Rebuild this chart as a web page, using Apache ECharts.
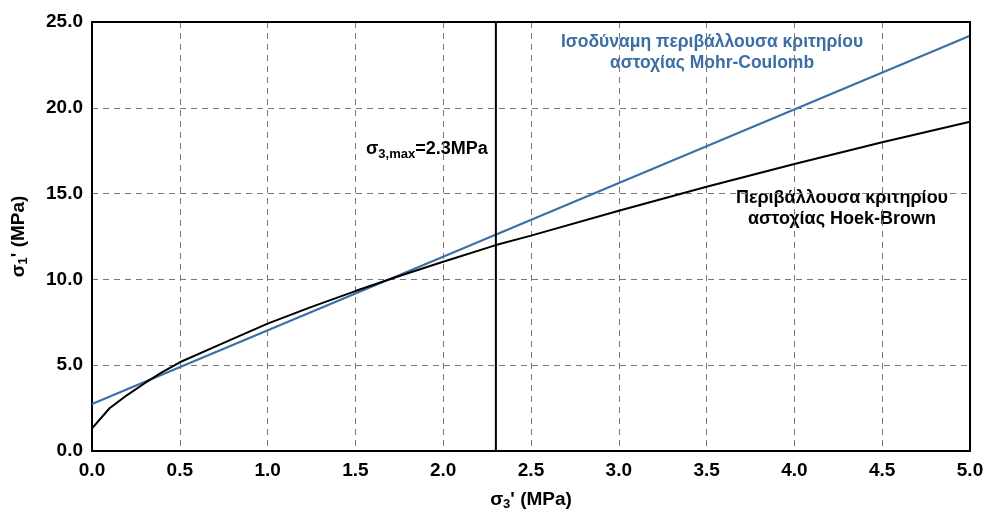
<!DOCTYPE html>
<html><head><meta charset="utf-8">
<script src="https://cdn.jsdelivr.net/npm/echarts@6/dist/echarts.min.js"></script>
<style>html,body{margin:0;padding:0;background:#fff}#c{width:984px;height:515px}</style>
</head><body><div id="c"></div>
<script>
const xTicks = [0,0.5,1,1.5,2,2.5,3,3.5,4,4.5,5];
const yTicks = [0,5,10,15,20,25];
const hbSigma3 = [0,0.1,0.2,0.3,0.4,0.5,0.75,1.0,1.25,1.5,1.75,2.0,2.3,2.5,3.0,3.5,4.0,4.5,5.0];
const hbSigma1 = [1.32,2.49,3.26,3.95,4.6,5.17,6.3,7.42,8.4,9.32,10.2,11.03,12.0,12.55,14.0,15.4,16.73,17.99,19.19];
const mcSigma3 = [0,5];
const mcSigma1 = [2.74,24.2];
const sigma3max = 2.3;

const F = '"Liberation Sans", Arial, sans-serif';
const chart = echarts.init(document.getElementById('c'));
const grid = {left:92,right:14,top:22,bottom:64};
const nameRich = {a:{fontFamily:F,fontWeight:'bold',fontSize:19,color:'#000'},s:{fontFamily:F,fontWeight:'bold',fontSize:13,color:'#000',verticalAlign:'bottom',padding:[9,0,0,0]}};
const lbl = {fontFamily:F,fontWeight:'bold',fontSize:19,color:'#000',formatter:v=>v.toFixed(1)};
const frame = {show:true,onZero:false,lineStyle:{color:'#000',width:2}};
chart.setOption({
  animation:false,
  grid:Object.assign({show:false,containLabel:false,outerBoundsMode:'none'},grid),
  xAxis:[{type:'value',min:0,max:5,interval:0.5,
    name:'{a|σ}{s|3}{a|\' (MPa)}',nameLocation:'middle',nameGap:38,nameTextStyle:{rich:nameRich},
    axisLine:frame,axisTick:{show:false},
    axisLabel:Object.assign({margin:10},lbl),
    splitLine:{show:true,lineStyle:{color:'#777',type:[6,5],width:1}}},
   {type:'value',min:0,max:5,interval:0.5,position:'top',axisLine:frame,axisTick:{show:false},axisLabel:{show:false},splitLine:{show:false},z:10}],
  yAxis:[{type:'value',min:0,max:25,interval:5,
    name:'{a|σ}{s|1}{a|\' (MPa)}',nameLocation:'middle',nameGap:62,nameRotate:90,nameTextStyle:{rich:nameRich},
    axisLine:frame,axisTick:{show:false},
    axisLabel:Object.assign({margin:9},lbl),
    splitLine:{show:true,lineStyle:{color:'#777',type:[6,5],width:1}}},
   {type:'value',min:0,max:25,interval:5,position:'right',axisLine:frame,axisTick:{show:false},axisLabel:{show:false},splitLine:{show:false},z:10}],
  series:[
    {type:'line',data:mcSigma3.map((x,i)=>[x,mcSigma1[i]]),symbol:'none',lineStyle:{color:'#3a6ea5',width:2},z:3},
    {type:'line',data:hbSigma3.map((x,i)=>[x,hbSigma1[i]]),symbol:'none',smooth:false,lineStyle:{color:'#000',width:2},z:4},
    {type:'line',data:[[sigma3max,0],[sigma3max,25]],symbol:'none',lineStyle:{color:'#000',width:2},z:5}
  ],
  graphic:[
    {type:'text',left:366,top:140,style:{text:'{a|σ}{s|3,max}{a|=2.3MPa}',rich:{
      a:{fontFamily:F,fontWeight:'bold',fontSize:18,fill:'#000'},
      s:{fontFamily:F,fontWeight:'bold',fontSize:13,fill:'#000',verticalAlign:'bottom',padding:[11,0,0,0]}}}},
    {type:'text',x:712,y:32,style:{text:'Ισοδύναμη περιβάλλουσα κριτηρίου\nαστοχίας Mohr-Coulomb',align:'center',
      fontFamily:F,fontWeight:'bold',fontSize:17.5,lineHeight:21,fill:'#3a6ea5'}},
    {type:'text',x:842,y:188,style:{text:'Περιβάλλουσα κριτηρίου\nαστοχίας Hoek-Brown',align:'center',
      fontFamily:F,fontWeight:'bold',fontSize:18,lineHeight:21,fill:'#000'}}
  ]
});
</script></body></html>
